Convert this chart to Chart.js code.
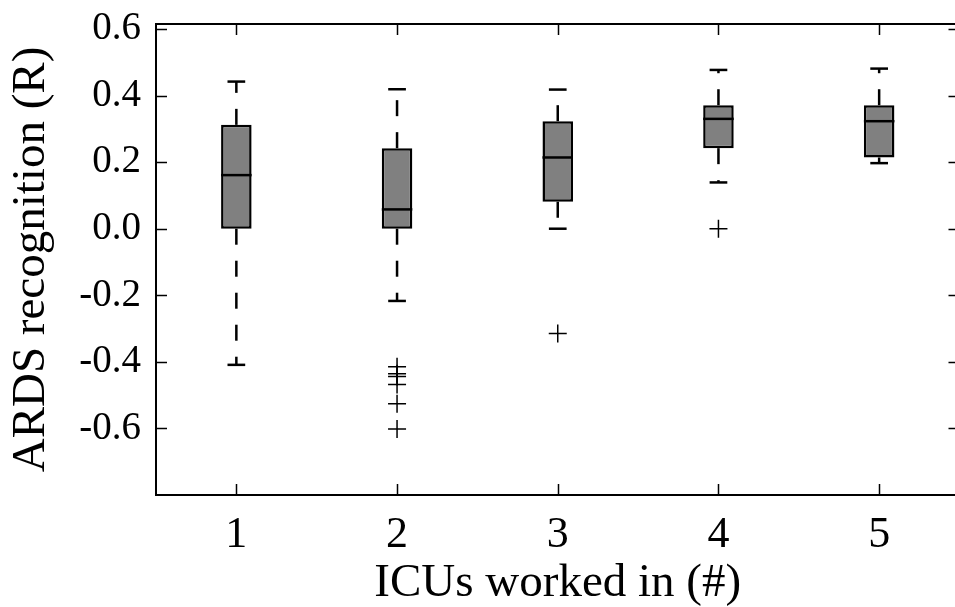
<!DOCTYPE html>
<html>
<head>
<meta charset="utf-8">
<script src="https://cdn.jsdelivr.net/npm/chart.js@4"></script>
<style>
  html, body { margin: 0; padding: 0; overflow: hidden; background: #fff; }
  canvas { display: block; }
</style>
</head>
<body>
<canvas id="chart" width="970" height="607"></canvas>
<script>
// box plot values
const categories = ["1", "2", "3", "4", "5"];
const q1 = [0.0, 0.0, 0.081, 0.242, 0.214];
const q3 = [0.312, 0.242, 0.323, 0.371, 0.371];
const medians = [0.161, 0.058, 0.214, 0.330, 0.323];
const whiskerLow = [-0.409, -0.217, 0.0, 0.139, 0.197];
const whiskerHigh = [0.442, 0.419, 0.418, 0.477, 0.481];
const outliers = [
  [],
  [-0.415, -0.436, -0.444, -0.468, -0.526, -0.602],
  [-0.315],
  [0.0],
  []
];
const yTicks = [0.6, 0.4, 0.2, 0.0, -0.2, -0.4, -0.6];

const serif = "'Liberation Serif', 'DejaVu Serif', serif";

const outlierPoints = [];
outliers.forEach((list, i) => {
  list.forEach((v) => outlierPoints.push({ x: categories[i], y: v }));
});

// whiskers, medians and caps, drawn through the chart scales
const boxParts = {
  id: "boxParts",
  beforeDatasetsDraw(chart) {
    const ctx = chart.ctx;
    const y = chart.scales.y;
    const bars = chart.getDatasetMeta(0).data;
    ctx.save();
    ctx.strokeStyle = "#000";
    ctx.lineWidth = 2.5;
    ctx.setLineDash([16, 16]);
    bars.forEach((bar, i) => {
      ctx.beginPath();
      ctx.moveTo(bar.x, y.getPixelForValue(q3[i]));
      ctx.lineTo(bar.x, y.getPixelForValue(whiskerHigh[i]));
      ctx.stroke();
      ctx.beginPath();
      ctx.moveTo(bar.x, y.getPixelForValue(q1[i]));
      ctx.lineTo(bar.x, y.getPixelForValue(whiskerLow[i]));
      ctx.stroke();
    });
    ctx.restore();
  },
  afterDatasetsDraw(chart) {
    const ctx = chart.ctx;
    const y = chart.scales.y;
    const bars = chart.getDatasetMeta(0).data;
    ctx.save();
    ctx.strokeStyle = "#000";
    ctx.lineWidth = 2.5;
    bars.forEach((bar, i) => {
      const half = bar.width / 2;
      const m = y.getPixelForValue(medians[i]);
      ctx.beginPath();
      ctx.moveTo(bar.x - half, m);
      ctx.lineTo(bar.x + half, m);
      ctx.stroke();
      const capHalf = half * 0.58;
      [whiskerHigh[i], whiskerLow[i]].forEach((v) => {
        const p = y.getPixelForValue(v);
        ctx.beginPath();
        ctx.moveTo(bar.x - capHalf, p);
        ctx.lineTo(bar.x + capHalf, p);
        ctx.stroke();
      });
    });
    ctx.restore();
  },
  afterDraw(chart) {
    // frame and inward ticks like matplotlib
    const { ctx, chartArea: a, scales } = chart;
    const len = 11;
    ctx.save();
    ctx.strokeStyle = "#000";
    ctx.lineWidth = 1.5;
    yTicks.forEach((v) => {
      const p = Math.round(scales.y.getPixelForValue(v)) + 0.5;
      ctx.beginPath();
      ctx.moveTo(a.left, p); ctx.lineTo(a.left + len, p);
      ctx.moveTo(a.right, p); ctx.lineTo(a.right - len, p);
      ctx.stroke();
    });
    categories.forEach((c, i) => {
      const p = Math.round(scales.x.getPixelForValue(i)) + 0.5;
      ctx.beginPath();
      ctx.moveTo(p, a.bottom); ctx.lineTo(p, a.bottom - len);
      ctx.moveTo(p, a.top); ctx.lineTo(p, a.top + len);
      ctx.stroke();
    });
    ctx.lineWidth = 2;
    ctx.strokeRect(a.left, a.top, a.right - a.left, a.bottom - a.top);
    ctx.restore();
  }
};

new Chart(document.getElementById("chart"), {
  type: "bar",
  data: {
    labels: categories,
    datasets: [
      {
        data: q1.map((v, i) => [v, q3[i]]),
        backgroundColor: "#808080",
        borderColor: "#000",
        borderWidth: 2.5,
        borderSkipped: false,
        barPercentage: 0.19,
        categoryPercentage: 1
      },
      {
        type: "scatter",
        data: outlierPoints,
        pointStyle: "cross",
        radius: 9,
        borderColor: "#000",
        borderWidth: 1.5,
        backgroundColor: "#000"
      }
    ]
  },
  plugins: [boxParts],
  options: {
    responsive: false,
    animation: false,
    events: [],
    layout: { padding: { left: 0, top: 24, right: 8, bottom: 0 } },
    plugins: { legend: { display: false }, tooltip: { enabled: false } },
    scales: {
      x: {
        type: "category",
        offset: true,
        grid: { display: false },
        border: { display: false },
        ticks: { color: "#000", font: { family: serif, size: 44 }, padding: 6, maxRotation: 0 },
        title: {
          display: true,
          text: "ICUs worked in (#)",
          color: "#000",
          font: { family: serif, size: 47, lineHeight: 1 },
          padding: { top: 0, bottom: 0 }
        },
        afterFit(s) { s.height = 112; s.paddingLeft = 0; s.paddingRight = 0; }
      },
      y: {
        min: -0.8,
        max: 0.615,
        grid: { display: false },
        border: { display: false },
        afterBuildTicks(s) { s.ticks = yTicks.map((v) => ({ value: v })); },
        ticks: {
          color: "#000",
          font: { family: serif, size: 39 },
          padding: 7,
          callback: (v) => Number(v).toFixed(1)
        },
        title: {
          display: true,
          text: "ARDS recognition (R)",
          color: "#000",
          font: { family: serif, size: 47, lineHeight: 1 },
          padding: { top: 8, bottom: 0 }
        },
        afterFit(s) { s.width = 156; s.paddingTop = 0; s.paddingBottom = 0; }
      }
    }
  }
});
</script>
</body>
</html>
